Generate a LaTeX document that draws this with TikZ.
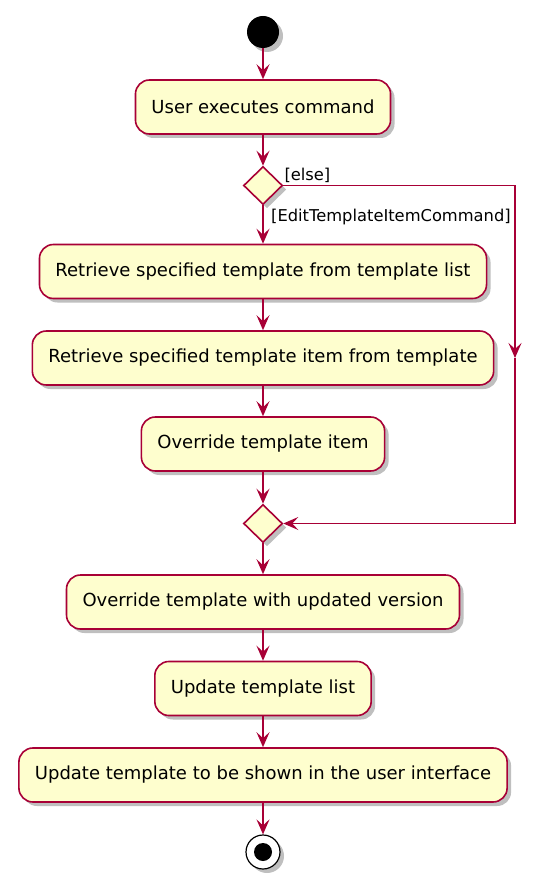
\documentclass[tikz,border=0pt]{standalone}
\usepackage{fontspec}
\setmainfont{DejaVu Sans}
\usetikzlibrary{shapes.geometric,arrows.meta,shadows}
\definecolor{umlred}{HTML}{A80036}
\definecolor{umlfill}{HTML}{FEFECE}
\tikzset{
	umlshadow/.style={drop shadow={shadow xshift=4pt, shadow yshift=-4pt, opacity=0.25, fill=black}},
	activity/.style={draw=umlred, fill=umlfill, line width=1.6pt, rounded corners=14pt, minimum height=54pt, inner xsep=16pt, font=\fontsize{18}{21}\selectfont, umlshadow},
	branch/.style={diamond, draw=umlred, fill=umlfill, line width=1.6pt, minimum width=39pt, minimum height=38pt, inner sep=0pt, umlshadow},
	flow/.style={draw=umlred, line width=1.6pt, -{Stealth[length=15pt,width=13pt,inset=6pt]}},
	guard/.style={font=\fontsize{16.3}{19}\selectfont, inner sep=0pt},
}
\begin{document}
\begin{tikzpicture}[x=1pt, y=-1pt]
	\useasboundingbox (0,0) rectangle (554,885);
	
	\node[circle, fill=black, minimum size=32pt, inner sep=0pt, umlshadow] (start) at (263,32) {};
	\node[activity] (user) at (263,107) {User executes command};
	\node[branch] (check) at (263,185.5) {};
	\node[activity] (getlist) at (263,271.5) {Retrieve specified template from template list};
	\node[activity] (getitem) at (263,358) {Retrieve specified template item from template};
	\node[activity] (override) at (263,444) {Override template item};
	\node[branch] (merge) at (263,523.5) {};
	\node[activity] (updated) at (263,602) {Override template with updated version};
	\node[activity] (updlist) at (263,688.5) {Update template list};
	\node[activity] (updui) at (263,775) {Update template to be shown in the user interface};
	\node[circle, draw=black, fill=white, line width=1.2pt, minimum size=34pt, inner sep=0pt, umlshadow] (stop) at (263,852) {};
	\node[circle, fill=black, minimum size=18pt, inner sep=0pt] (stopdot) at (stop) {};
	
	\node[guard, anchor=south west] (elselabel) at ([xshift=1pt,yshift=2.5pt]check.east) {[else]};
	\node[guard, anchor=north west] (editlabel) at ([xshift=8pt,yshift=-4pt]check.south) {[EditTemplateItemCommand]};
	
	\coordinate (elsetop) at (515,185.5);
	\coordinate (elsemid) at (515,358);
	\coordinate (elsebot) at (515,523.5);
	
	\draw[flow] (start) -- (user);
	\draw[flow] (user) -- (check);
	\draw[flow] (check) -- (getlist);
	\draw[flow] (getlist) -- (getitem);
	\draw[flow] (getitem) -- (override);
	\draw[flow] (override) -- (merge);
	\draw[flow] (check.east) -- (elsetop) -- (elsemid);
	\draw[flow] (elsemid) -- (elsebot) -- (merge.east);
	\draw[flow] (merge) -- (updated);
	\draw[flow] (updated) -- (updlist);
	\draw[flow] (updlist) -- (updui);
	\draw[flow] (updui) -- (stop);

\end{tikzpicture}
\end{document}
